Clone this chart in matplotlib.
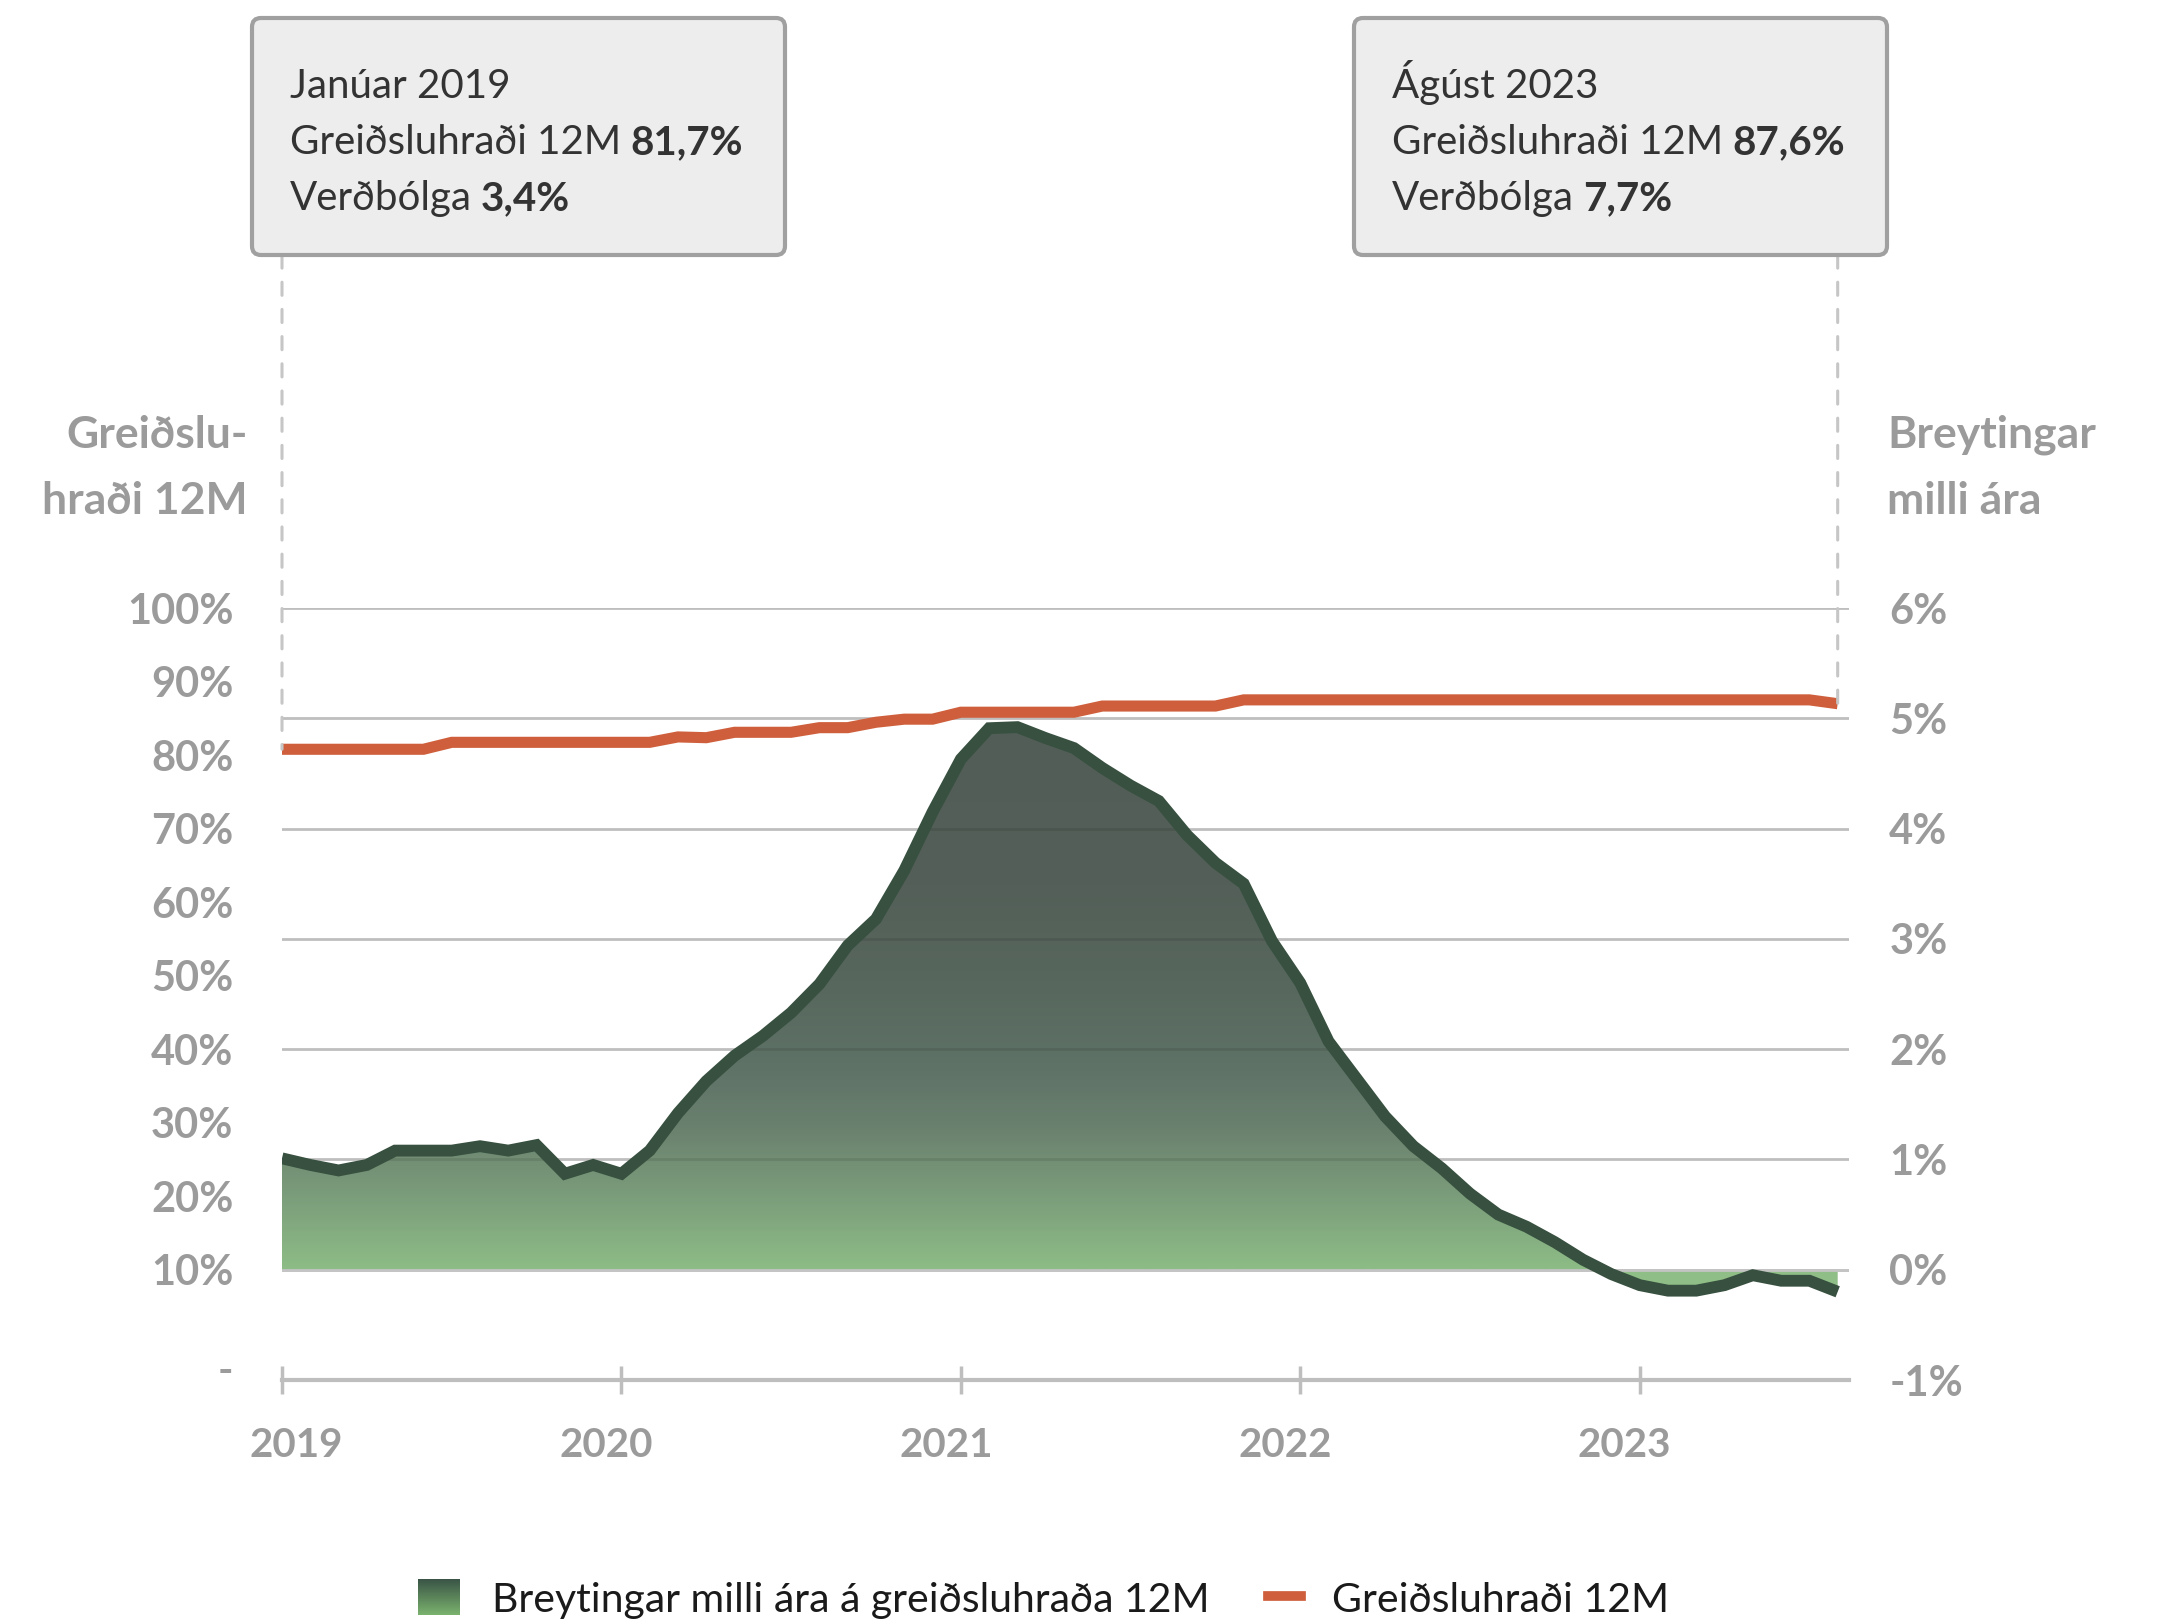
import numpy as np
import pandas as pd
import matplotlib
matplotlib.use("Agg")
import matplotlib.pyplot as plt
from matplotlib.colors import LinearSegmentedColormap
from matplotlib.patches import FancyBboxPatch
from matplotlib.lines import Line2D
from matplotlib.path import Path
from matplotlib.text import Annotation
from matplotlib.transforms import (IdentityTransform, ScaledTranslation,
                                   blended_transform_factory)

plt.rcParams["font.family"] = ["Lato", "DejaVu Sans"]

# ── Data ──────────────────────────────────────────────────────────────
months = pd.date_range("2019-01-01", periods=56, freq="MS")

# Breytingar milli ára á greiðsluhraða 12M (%-stig, right axis)
yoy_change = [
    1.01, 0.95, 0.90, 0.95, 1.08, 1.08, 1.08, 1.12, 1.08, 1.13, 0.87, 0.95,
    0.87, 1.08, 1.42, 1.71, 1.94, 2.12, 2.33, 2.59, 2.94, 3.18, 3.62, 4.15,
    4.63, 4.91, 4.92, 4.82, 4.73, 4.55, 4.39, 4.25, 3.94, 3.69, 3.50, 2.98,
    2.60, 2.07, 1.73, 1.39, 1.12, 0.92, 0.69, 0.50, 0.39, 0.25, 0.09, -0.04,
    -0.14, -0.19, -0.19, -0.14, -0.05, -0.10, -0.10, -0.20,
]

# Greiðsluhraði 12M (%, left axis)
payment_rate = [
    81.7, 81.7, 81.7, 81.7, 81.7, 81.7, 82.6, 82.6, 82.6, 82.6, 82.6, 82.6,
    82.6, 82.6, 83.3, 83.2, 83.9, 83.9, 83.9, 84.5, 84.5, 85.2, 85.6, 85.6,
    86.5, 86.5, 86.5, 86.5, 86.5, 87.3, 87.3, 87.3, 87.3, 87.3, 88.1, 88.1,
    88.1, 88.1, 88.1, 88.1, 88.1, 88.1, 88.1, 88.1, 88.1, 88.1, 88.1, 88.1,
    88.1, 88.1, 88.1, 88.1, 88.1, 88.1, 88.1, 87.6,
]

right_ticks = [-1, 0, 1, 2, 3, 4, 5, 6]
right_labels = ["-1%", "0%", "1%", "2%", "3%", "4%", "5%", "6%"]
left_values = [100, 90, 80, 70, 60, 50, 40, 30, 20, 10]
left_labels = ["100%", "90%", "80%", "70%", "60%", "50%", "40%", "30%", "20%", "10%"]

callouts = [
    (0, "Janúar 2019", "81,7%", "3,4%"),
    (55, "Ágúst 2023", "87,6%", "7,7%"),
]

# ── Style ─────────────────────────────────────────────────────────────
W, H = 2157, 1619
GRID = "#BEBEBE"
LABEL = "#9B9B9B"
DARK = "#37503F"
ORANGE = "#CF5F3C"
TEXT = "#333333"
XMAX = 55.4
BOX_FS = 29
LEGEND_FS = 29.5


def fx(px):
    return px / W


def fy(py):
    return 1 - py / H


x = np.arange(len(yoy_change))

fig = plt.figure(figsize=(W / 100, H / 100), dpi=100)
ax = fig.add_axes([fx(282), fy(1380), (1849 - 282) / W, (1380 - 608) / H])

# gradient area
area_cmap = LinearSegmentedColormap.from_list("area", [
    (0.0, "#8DBC86"), (0.14, "#7A9B7A"), (0.26, "#6A806E"), (0.36, "#5F7367"),
    (0.5, "#58685E"), (0.7, "#535F58"), (1.0, "#515D56"),
]).with_extremes(under="#8FBF87", over="#515D56")
grad = np.linspace(-1, 6, 700).reshape(-1, 1)
im = ax.imshow(grad, extent=(0, XMAX, -1, 6), origin="lower", aspect="auto",
               cmap=area_cmap, vmin=0, vmax=5, zorder=2)
fb = ax.fill_between(x, yoy_change, 0, facecolor="none", edgecolor="none")
clip = Path.make_compound_path(*fb.get_paths())
im.set_clip_path(clip, ax.transData)

# gridlines (dark tint where they pass through the area)
shade = ax.hlines(right_ticks[2:], 0, XMAX, color="k", alpha=0.09, lw=2, zorder=2.2)
shade.set_clip_path(clip, ax.transData)
ax.axhline(0, color="#C4C4C4", lw=2, zorder=2.5)

ax.plot(x, yoy_change, color=DARK, lw=8.5, solid_joinstyle="miter",
        solid_capstyle="butt", zorder=3)

ax.set_xlim(0, XMAX)
ax.set_ylim(-1, 6)
for side in ["top", "left", "right"]:
    ax.spines[side].set_visible(False)
ax.spines["bottom"].set_color(GRID)
ax.spines["bottom"].set_linewidth(3)

year_idx = [i for i, d in enumerate(months) if d.month == 1]
ax.set_xticks(year_idx, [str(months[i].year) for i in year_idx], fontweight="bold")
ax.tick_params(axis="x", direction="inout", length=20, width=2.5, color=GRID,
               pad=24, labelsize=29, labelcolor=LABEL)
# year labels sit a little left of their ticks, the first one is kept inside
for i, lbl in enumerate(ax.get_xticklabels()):
    dx = 14 if i == 0 else -15
    lbl.set_transform(lbl.get_transform() + ScaledTranslation(dx / 100, 0, fig.dpi_scale_trans))

# left axis: 0..100 spans the full plot height
ax2 = ax.twinx()
ax2.set_ylim(0, 100)
ax2.set_xlim(0, XMAX)
ax2.plot(x, payment_rate, color=ORANGE, lw=8, solid_joinstyle="miter",
         solid_capstyle="butt", zorder=3)
for side in ax2.spines:
    ax2.spines[side].set_visible(False)
# labels in the reference are spaced as if 10% sits on the 0% gridline
left_pos = [((v - 10) / 15 + 1) / 7 * 100 for v in left_values] + [0]
ax2.yaxis.tick_left()
ax2.set_yticks(left_pos, left_labels + ["-"], fontweight="bold")
ax2.tick_params(axis="y", length=0, pad=35, labelsize=30, labelcolor=LABEL)
dash_lbl = ax2.get_yticklabels()[-1]
dash_lbl.set_transform(dash_lbl.get_transform() + ScaledTranslation(0, 0.12, fig.dpi_scale_trans))

# right axis labels (twinx moved the host ticks to the left)
ax.yaxis.tick_right()
ax.set_yticks(right_ticks, right_labels, fontweight="bold")
ax.tick_params(axis="y", length=0, pad=29, labelsize=30, labelcolor=LABEL)
ax.grid(axis="y", color=GRID, lw=2)
ax.set_axisbelow(True)

# axis titles
for txt, py in [("Greiðslu-", 435), ("hraði 12M", 501)]:
    fig.text(fx(248), fy(py), txt, ha="right", va="center", fontsize=32,
             fontweight="bold", color=LABEL)
for txt, py in [("Breytingar", 435), ("milli ára", 501)]:
    fig.text(fx(1887), fy(py), txt, ha="left", va="center", fontsize=32,
             fontweight="bold", color=LABEL)

# callout boxes
box_left = [252, 1354]
to_fig = blended_transform_factory(ax2.transData, fig.transFigure)
for (idx, month_txt, rate_txt, infl_txt), bx in zip(callouts, box_left):
    fig.add_artist(FancyBboxPatch((bx, H - 255), 533, 237,
                                  boxstyle="round,pad=0,rounding_size=9",
                                  transform=IdentityTransform(), facecolor="#EDEDED",
                                  edgecolor="#A0A0A0", lw=3))
    tx = fx(bx + 38)
    fig.text(tx, fy(98), month_txt, va="baseline", fontsize=BOX_FS, color=TEXT)
    for label, value, py in [("Greiðsluhraði 12M", rate_txt, 154),
                             ("Verðbólga", infl_txt, 210)]:
        t = fig.text(tx, fy(py), label, va="baseline", fontsize=BOX_FS, color=TEXT)
        fig.add_artist(Annotation(value, xy=(1, 0), xycoords=t, xytext=(9, 0),
                                  textcoords="offset pixels", va="bottom", ha="left",
                                  fontsize=BOX_FS, fontweight="bold", color=TEXT,
                                  zorder=4))
    ax2.annotate("", xy=(idx, payment_rate[idx]), xycoords="data",
                 xytext=(idx, fy(255)), textcoords=to_fig, annotation_clip=False,
                 arrowprops=dict(arrowstyle="-", color="#C6C6C6", lw=2.2,
                                 linestyle=(0, (4.3, 4.6)), shrinkA=0, shrinkB=0),
                 zorder=6)

# legend
legend_cmap = LinearSegmentedColormap.from_list("leg", ["#3A5446", "#7BB36E"])
lax = fig.add_axes([fx(418), fy(1615), 42 / W, 36 / H])
lax.imshow(np.linspace(0, 1, 100).reshape(-1, 1), cmap=legend_cmap, aspect="auto")
lax.axis("off")
fig.text(fx(492), fy(1612), "Breytingar milli ára á greiðsluhraða 12M",
         va="baseline", fontsize=LEGEND_FS, color="#1A1A1A")
fig.add_artist(Line2D([fx(1268), fx(1301)], [fy(1596), fy(1596)], color=ORANGE,
                      lw=7, transform=fig.transFigure))
fig.text(fx(1332), fy(1612), "Greiðsluhraði 12M", va="baseline", fontsize=LEGEND_FS,
         color="#1A1A1A")

fig.savefig("out.png", dpi=100, facecolor="white")
